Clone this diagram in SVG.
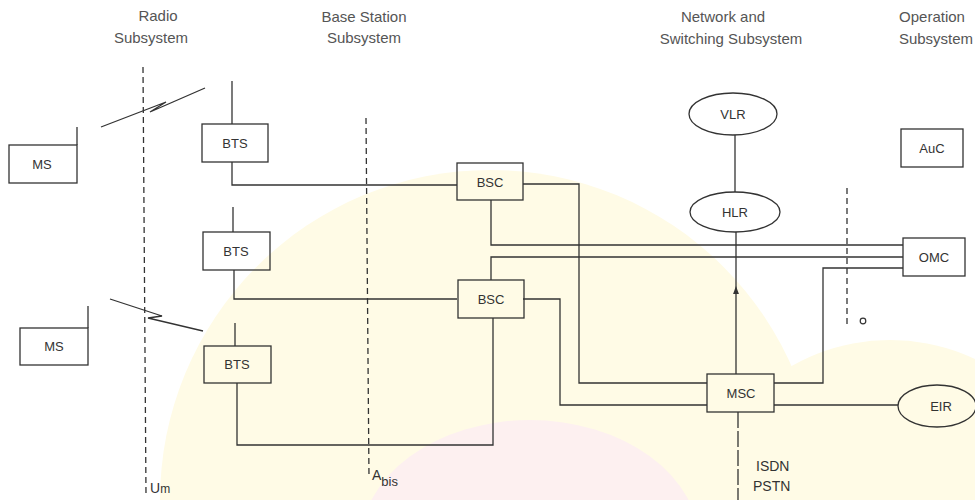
<svg xmlns="http://www.w3.org/2000/svg" width="975" height="500" viewBox="0 0 975 500">
<defs>
<style>
.t{font-family:"Liberation Sans",Arial,sans-serif;font-size:15px;fill:#555;text-anchor:middle}
.n{font-family:"Liberation Sans",Arial,sans-serif;font-size:13px;fill:#333;text-anchor:middle;dominant-baseline:central}
.l{font-family:"Liberation Sans",Arial,sans-serif;font-size:14px;fill:#333}
.box{fill:none;stroke:#333;stroke-width:1.3}
.w{fill:none;stroke:#333;stroke-width:1.3}
.d{fill:none;stroke:#333;stroke-width:1.3;stroke-dasharray:6 4}
</style>
<marker id="ar" viewBox="0 0 8 8" refX="4" refY="4" markerWidth="6" markerHeight="6" orient="auto"><path d="M0,1 L8,4 L0,7 Z" fill="#333"/></marker>
</defs>
<rect width="975" height="500" fill="#fff"/>
<g id="watermark">
<circle cx="490" cy="500" r="330" fill="#fffbe6"/>
<ellipse cx="890" cy="520" rx="190" ry="180" fill="#fffbe6"/>
<ellipse cx="530" cy="545" rx="170" ry="125" fill="#fdf0f0"/>
</g>
<g id="titles">
<text class="t" x="158" y="21">Radio</text>
<text class="t" x="151" y="43">Subsystem</text>
<text class="t" x="364" y="22">Base Station</text>
<text class="t" x="364" y="43">Subsystem</text>
<text class="t" x="723" y="22">Network and</text>
<text class="t" x="731" y="44">Switching Subsystem</text>
<text class="t" x="932" y="22">Operation</text>
<text class="t" x="936" y="44">Subsystem</text>
</g>
<g id="interfaces">
<path class="d" d="M143,67 L146,495"/>
<path class="d" d="M366,118 L369,478"/>
<path class="d" d="M847,188 L847,327"/>
<circle cx="863" cy="321" r="2.8" fill="none" stroke="#333" stroke-width="1.2"/>
<text class="l" x="150" y="493">U<tspan font-size="12">m</tspan></text>
<text class="l" x="372" y="480">A<tspan font-size="13" dy="6">bis</tspan></text>
<text class="l" x="756" y="471">ISDN</text>
<text class="l" x="753" y="491">PSTN</text>
</g>
<g id="connectors">
<path class="w" d="M101,127 L166,102 L150,112 L205,88"/>
<path class="w" d="M110,299 L162,316 L148,318 L203,331"/>
<path class="w" d="M77,127 L77,145"/>
<path class="w" d="M88,306 L88,328"/>
<path class="w" d="M232,81 L232,124"/>
<path class="w" d="M233,207 L233,232"/>
<path class="w" d="M235,323 L235,346"/>
<path class="w" d="M232,162 L232,185 L457,185"/>
<path class="w" d="M234,270 L234,299 L457,299"/>
<path class="w" d="M237,383 L237,445 L493,445 L493,318"/>
<path class="w" d="M523,184 L579,184 L579,383 L707,383"/>
<path class="w" d="M491,200 L491,245 L903,245"/>
<path class="w" d="M491,280 L491,257 L903,257"/>
<path class="w" d="M523,299 L560,299 L560,405 L707,405"/>
<path class="w" d="M774,383 L823,383 L823,268 L903,268"/>
<path class="w" d="M774,405 L898,405"/>
<path class="w" d="M735,135 L735,192"/>
<path class="w" d="M736,374 L736,290" marker-end="url(#ar)"/>
<path class="w" d="M736,292 L736,232"/>
<path class="w" d="M738,412 L738,500" stroke-dasharray="16 3"/>
</g>
<g id="MS1"><rect class="box" x="9" y="145" width="68" height="38"/><text class="n" x="42" y="164">MS</text></g>
<g id="MS2"><rect class="box" x="20" y="328" width="68" height="37"/><text class="n" x="54" y="346">MS</text></g>
<g id="BTS1"><rect class="box" x="202" y="124" width="66" height="38"/><text class="n" x="235" y="143">BTS</text></g>
<g id="BTS2"><rect class="box" x="203" y="232" width="67" height="38"/><text class="n" x="236" y="251">BTS</text></g>
<g id="BTS3"><rect class="box" x="204" y="346" width="67" height="37"/><text class="n" x="237" y="364">BTS</text></g>
<g id="BSC1"><rect class="box" x="457" y="163" width="66" height="37"/><text class="n" x="490" y="182">BSC</text></g>
<g id="BSC2"><rect class="box" x="458" y="280" width="66" height="38"/><text class="n" x="491" y="299">BSC</text></g>
<g id="MSC"><rect class="box" x="707" y="374" width="67" height="38"/><text class="n" x="741" y="393">MSC</text></g>
<g id="VLR"><ellipse class="box" cx="733" cy="114" rx="44" ry="21"/><text class="n" x="733" y="114">VLR</text></g>
<g id="HLR"><ellipse class="box" cx="735" cy="212" rx="45" ry="20"/><text class="n" x="735" y="212">HLR</text></g>
<g id="AuC"><rect class="box" x="901" y="129" width="62" height="38"/><text class="n" x="932" y="148">AuC</text></g>
<g id="OMC"><rect class="box" x="903" y="238" width="62" height="38"/><text class="n" x="934" y="257">OMC</text></g>
<g id="EIR"><ellipse class="box" cx="937" cy="406" rx="39" ry="21"/><text class="n" x="941" y="406">EIR</text></g>
</svg>
